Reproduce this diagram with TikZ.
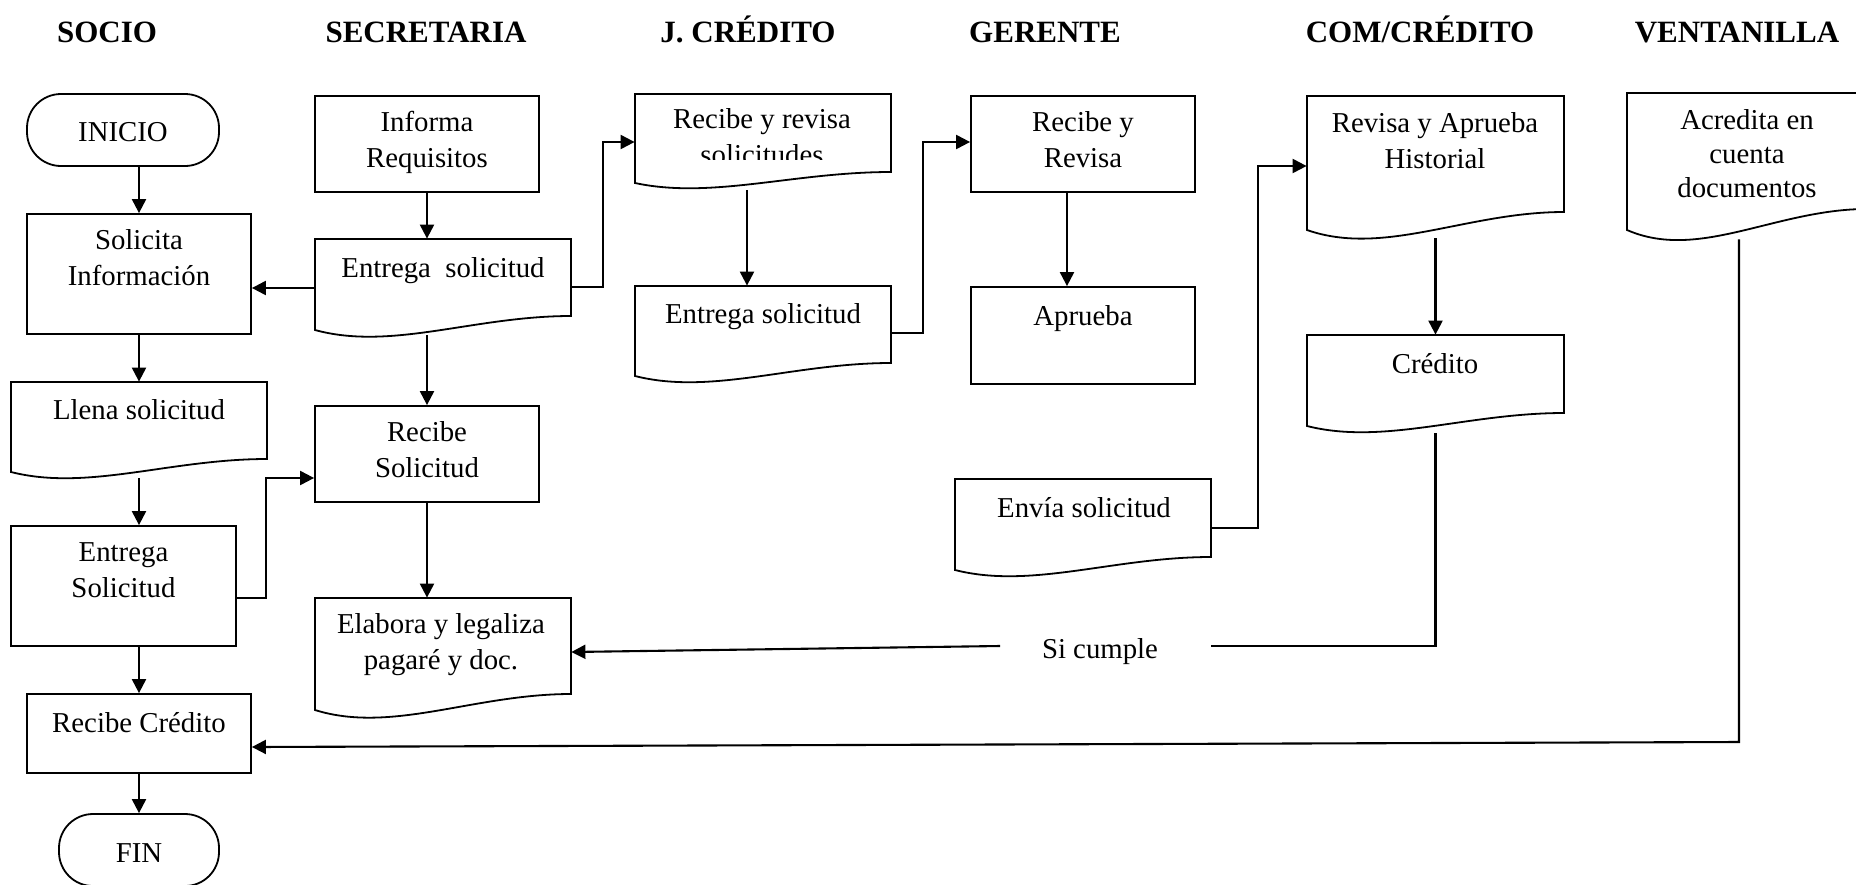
\documentclass[tikz,border=0pt]{standalone}
\usepackage{fontspec}
\setmainfont{Liberation Serif}
\usetikzlibrary{arrows.meta,fit,calc}

\tikzset{
  boxline/.style={draw, line width=0.9pt},
  rectbox/.style={boxline, inner sep=0pt},
  area/.style={inner sep=0pt},
  term/.style={boxline, inner sep=0pt, rounded corners=17pt},
  txt/.style={font=\fontsize{14.4}{18}\selectfont, align=center, inner sep=0pt, anchor=base},
  lane/.style={font=\fontsize{15.5}{18}\selectfont\bfseries, inner sep=0pt, anchor=base},
  flow/.style={line width=1.05pt},
  arr/.style={flow, -{Triangle[length=7pt,width=7pt]}},
}

% document symbol: name, left, top, right, right-bottom, left-bottom
\newcommand\docbox[6]{%
  \node[area, fit={(#2,#3) (#4,#6)}] (#1) {};
  \draw[boxline] (#2,#6) -- (#2,#3) -- (#4,#3) -- (#4,#5)
    .. controls ({#2+0.62*(#4-#2)},#5) and ({#2+0.3*(#4-#2)},{2.5*#6-1.5*#5}) .. (#2,#6) -- cycle;
}

\begin{document}
\begin{tikzpicture}[x=0.5pt, y=-0.5pt]
\clip (0,0) rectangle (1856,884);

% lane headings
\node[lane] (hSocio) at (107,42) {SOCIO};
\node[lane] (hSec)   at (426,42) {SECRETARIA};
\node[lane] (hJc)    at (748,42) {J. CRÉDITO};
\node[lane] (hGer)   at (1045,42) {GERENTE};
\node[lane] (hCom)   at (1420,42) {COM/CRÉDITO};
\node[lane] (hVen)   at (1737,42) {VENTANILLA};

% SOCIO (multi-line texts are placed by the baseline of their last line)
\node[term, fit={(27,94) (219,166)}] (inicio) {};
\node[txt] (inicioT) at (123,141) {INICIO};
\node[rectbox, fit={(27,214) (251,334)}] (sol) {};
\node[txt] (solT) at (139,285) {Solicita\\Información};
\docbox{llena}{11}{382}{267}{459}{472}
\node[txt] (llenaT) at (139,419) {Llena solicitud};
\node[rectbox, fit={(11,526) (236,646)}] (entS) {};
\node[txt] (entST) at (123.5,597) {Entrega\\Solicitud};
\node[rectbox, fit={(27,694) (251,773)}] (rcre) {};
\node[txt] (rcreT) at (139,732) {Recibe Crédito};
\node[term, fit={(59,814) (219,886)}] (fin) {};
\node[txt] (finT) at (139,862) {FIN};

% SECRETARIA
\node[rectbox, fit={(315,96) (539,192)}] (inf) {};
\node[txt] (infT) at (427,167) {Informa\\Requisitos};
\docbox{entSec}{315}{239}{571}{316}{330}
\node[txt] (entSecT) at (443,277) {Entrega\ \ solicitud};
\node[rectbox, fit={(315,406) (539,502)}] (rsec) {};
\node[txt] (rsecT) at (427,477) {Recibe\\Solicitud};
\docbox{elab}{315}{598}{571}{694}{710}
\node[txt] (elabT) at (441,669) {Elabora y legaliza\\pagaré y doc.};

% J. CREDITO
\docbox{jrec}{635}{94}{891}{172}{183}
\node[txt] (jrecT) at (762,128) {Recibe y revisa};
\begin{scope}
  \clip (635,94) rectangle (891,159);
  \node[txt] (jrecT2) at (762,164) {solicitudes};
\end{scope}
\docbox{jent}{635}{286}{891}{363}{376}
\node[txt] (jentT) at (763,323) {Entrega solicitud};

% GERENTE
\node[rectbox, fit={(971,96) (1195,192)}] (grec) {};
\node[txt] (grecT) at (1083,167) {Recibe y\\Revisa};
\node[rectbox, fit={(971,287) (1195,384)}] (gapr) {};
\node[txt] (gaprT) at (1083,325) {Aprueba};
\docbox{genv}{955}{479}{1211}{557}{570}
\node[txt] (genvT) at (1084,517) {Envía solicitud};

% COM/CREDITO
\docbox{crev}{1307}{96}{1564}{212}{230}
\node[txt] (crevT) at (1435,168) {Revisa y Aprueba\\Historial};
\docbox{ccre}{1307}{335}{1564}{413}{426}
\node[txt] (ccreT) at (1435,373) {Crédito};

% VENTANILLA
\docbox{vacr}{1627}{93}{1867}{209}{230}
\node[txt, font=\fontsize{14.4}{17}\selectfont] (vacrT) at (1747,197) {Acredita en\\cuenta\\documentos};

% decision label
\node[txt] (cumple) at (1100,658) {Si cumple};
\coordinate (cR) at (1211,646);
\coordinate (cL) at (1000,646);
\coordinate (vturn) at (1739,742);

% connectors
\draw[arr] (inicio.south -| sol.north) -- (sol.north);
\draw[arr] (sol.south) -- (llena.north);
\draw[arr] ($(llena.south)+(0,6)$) -- (llena.south |- entS.north);
\draw[arr] (rcre.north |- entS.south) -- (rcre.north);
\draw[arr] (rcre.south) -- (fin.north);

\draw[arr] (inf.south) -- (inf.south |- entSec.north);
\draw[arr] (entSec.west |- 0,288) -- (sol.east |- 0,288);
\draw[arr] (entSec.east |- 0,287) -| ($(jrec.west |- 0,142)+(-32,0)$) -- (jrec.west |- 0,142);
\draw[arr] ($(inf.south |- entSec.south)+(0,5)$) -- (inf.south |- rsec.north);
\draw[arr] (entS.east |- 0,598) -| ($(rsec.west |- 0,478)+(-48,0)$) -- (rsec.west |- 0,478);
\draw[arr] (rsec.south) -- (rsec.south |- elab.north);

\draw[arr] ($(jrec.south)+(-16,7)$) -- ($(jent.north)+(-16,0)$);
\draw[arr] (jent.east |- 0,333) -| ($(grec.west |- 0,142)+(-47,0)$) -- (grec.west |- 0,142);
\draw[arr] ($(grec.south)+(-16,0)$) -- ($(gapr.north)+(-16,0)$);

\draw[arr] (genv.east |- 0,528) -| ($(crev.west |- 0,166)+(-49,0)$) -- (crev.west |- 0,166);
\draw[arr] ($(crev.south)+(0,8)$) -- (crev.south |- ccre.north);

\draw[flow] ($(ccre.south)+(0,7)$) |- (cR);
\draw[arr] (cL) -- (elab.east |- 0,652);

\draw[arr] ($(vacr.south -| vturn)+(0,9)$) -- (vturn) -- (rcre.east |- 0,747);
\end{tikzpicture}
\end{document}
